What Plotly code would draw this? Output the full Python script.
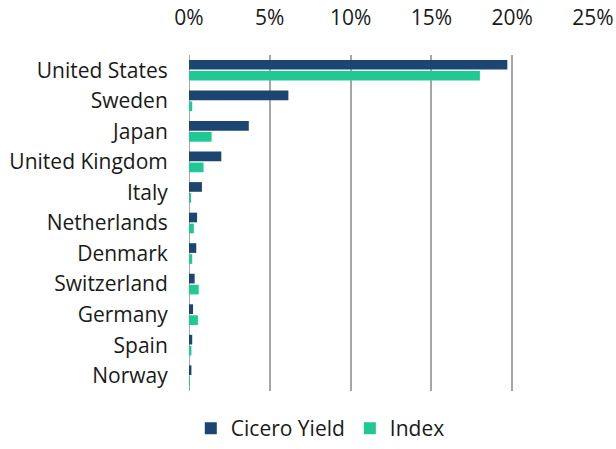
import plotly.graph_objects as go

countries = ["United States", "Sweden", "Japan", "United Kingdom", "Italy",
             "Netherlands", "Denmark", "Switzerland", "Germany", "Spain", "Norway"]
cicero_yield = [0.197, 0.0615, 0.037, 0.020, 0.008, 0.005, 0.0045, 0.0035, 0.0025, 0.002, 0.0015]
index_vals = [0.180, 0.002, 0.014, 0.009, 0.0012, 0.003, 0.002, 0.006, 0.0055, 0.0015, 0.0002]
x_ticks = [0, 0.05, 0.10, 0.15, 0.20, 0.25]
x_ticktext = ["0%", "5%", "10%", "15%", "20%", "25%"]

NAVY = "#1D4571"
GREEN = "#20C993"
FONT = "Open Sans"
FS = 21

fig = go.Figure()
fig.add_trace(go.Bar(y=countries, x=cicero_yield, orientation="h", name="Cicero Yield",
                     marker=dict(color=NAVY, line=dict(width=0))))
fig.add_trace(go.Bar(y=countries, x=index_vals, orientation="h", name="Index",
                     marker=dict(color=GREEN, line=dict(width=0))))

fig.update_layout(
    width=616, height=449,
    margin=dict(l=189, r=23, t=55, b=58, autoexpand=False),
    paper_bgcolor="white", plot_bgcolor="white",
    barmode="group", bargap=0.28, bargroupgap=0.12,
    font=dict(family=FONT, size=FS, color="#1a1a1a"),
    showlegend=True,
    legend=dict(orientation="h", x=0.325, xanchor="center",
                yref="container", y=0, yanchor="bottom",
                font=dict(size=FS), traceorder="normal"),
    xaxis=dict(side="top", range=[0, 0.25], tickvals=x_ticks, ticktext=x_ticktext,
               showgrid=True, gridcolor="#A6A6A6", gridwidth=1.5,
               zeroline=False, showline=False, automargin=False,
               ticks="outside", ticklen=21, tickcolor="rgba(0,0,0,0)",
               tickfont=dict(size=FS)),
    yaxis=dict(autorange="reversed", showgrid=False, zeroline=False,
               showline=False, automargin=False,
               ticks="outside", ticklen=16, tickcolor="rgba(0,0,0,0)",
               tickfont=dict(size=FS)),
    shapes=[dict(type="line", xref="x", yref="paper", x0=0, x1=0, y0=0, y1=1,
                 line=dict(color="#8C8C8C", width=1.5), layer="below")],
)

fig.write_html("out.html", config={"displayModeBar": False},
               post_script="document.body.style.margin='0';")
